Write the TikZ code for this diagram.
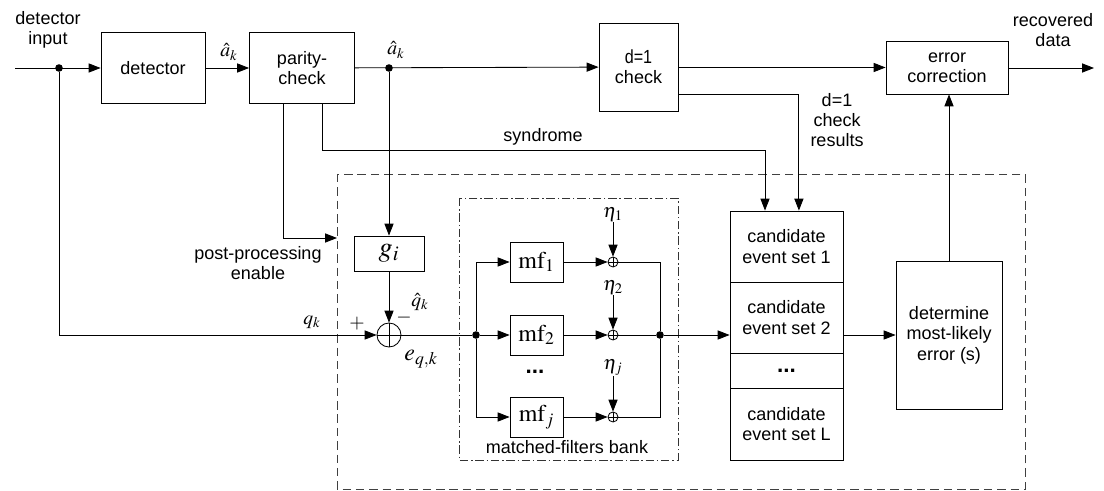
\documentclass[tikz,border=0pt]{standalone}
\usepackage{mathptmx}
\usepackage[no-math]{fontspec}
\setmainfont{Liberation Sans}
\newfontfamily\narrowfont[FakeStretch=0.85]{Liberation Sans}
\usetikzlibrary{arrows.meta}

\tikzset{
	blk/.style = {draw, align=center, inner sep=0pt},
	arr/.style = {-{Triangle[length=8.5pt,width=6.5pt]}},
	junc/.style = {circle, fill, inner sep=0pt, minimum size=0.19cm},
	sumnode/.style = {circle, draw, inner sep=0pt, minimum size=#1,
		path picture = {\draw (path picture bounding box.north) -- (path picture bounding box.south)
			(path picture bounding box.west) -- (path picture bounding box.east);}},
	lbl/.style = {align=center, inner sep=0pt},
	mlbl/.style = {inner sep=0pt, font=\fontsize{14}{16}\selectfont}
}

\begin{document}
\begin{tikzpicture} [x=0.025cm, y=-0.025cm, line width=0.6pt, font=\fontsize{12.8}{14.5}\selectfont]
	\useasboundingbox (0,0) rectangle (1104,491);

	% frames
	\draw [dash pattern=on 6pt off 3.5pt, black!75] (337,174) rectangle (1025,489);
	\draw [dash pattern=on 6pt off 2pt on 1pt off 2pt, black!80] (459,198) rectangle (678,460);

	% top row
	\coordinate (in) at (15,68);
	\coordinate (out) at (1094,68);
	\node [junc] (sp0) at (59,68) {};
	\node [blk, minimum width=2.6cm, minimum height=1.775cm] (det) at (153,68) {detector};
	\node [blk, minimum width=2.625cm, minimum height=1.775cm] (par) at (302,68) {parity-\\check};
	\node [junc] (sp1) at (389,68) {};
	\node [blk, minimum width=1.975cm, minimum height=2.2cm] (dchk) at (638.5,67) {\narrowfont\fontsize{13.5}{15}\selectfont d=1\\check};
	\node [blk, minimum width=3.05cm, minimum height=1.325cm] (errc) at (947,67.5) {error\\correction};

	\node [lbl] at (48,30) {detector\\input};
	\node [lbl] at (1053,30) {recovered\\data};
	\node [mlbl] at (229,52) {$\hat{a}_k$};
	\node [mlbl] at (396,50) {$\hat{a}_k$};
	\node at (543,137) {syndrome};
	\node [lbl] at (837,120) {d=1\\check\\results};
	\node [lbl] at (258,263) {post-processing\\enable};

	% post-processing blocks
	\node [blk, minimum width=1.75cm, minimum height=0.875cm] (gi) at (389,253.5) {\fontsize{20}{22}\selectfont $g_i$};
	\node [sumnode=0.6cm] (sum) at (389,335) {};
	\node [junc] (sp2) at (476,335) {};
	\node [blk, minimum width=1.325cm, minimum height=1cm] (mf1) at (536.5,262) {\fontsize{17}{19}\selectfont $\mathrm{mf}_1$};
	\node [blk, minimum width=1.325cm, minimum height=1cm] (mf2) at (536.5,335) {\fontsize{17}{19}\selectfont $\mathrm{mf}_2$};
	\node [blk, minimum width=1.325cm, minimum height=1cm] (mfj) at (536.5,417) {\fontsize{17}{19}\selectfont $\mathrm{mf}_j$};
	\node at (535,372) {\fontsize{16}{18}\selectfont\textbf{...}};
	\node [sumnode=0.25cm] (add1) at (613,262) {};
	\node [sumnode=0.25cm] (add2) at (613,335) {};
	\node [sumnode=0.25cm] (addj) at (613,417) {};
	\node [mlbl] (eta1) at (613,215) {$\eta_1$};
	\node [mlbl] (eta2) at (613,288) {$\eta_2$};
	\node [mlbl] (etaj) at (613,368) {$\eta_j$};
	\node [junc] (sp3) at (660,335) {};
	\node at (567,447) {matched-filters bank};

	\node [blk, minimum width=2.825cm, minimum height=1.775cm] (cand1) at (786.5,246.5) {candidate\\event set 1};
	\node [blk, minimum width=2.825cm, minimum height=1.775cm] (cand2) at (786.5,317.5) {candidate\\event set 2};
	\node [blk, minimum width=2.825cm, minimum height=0.875cm] (candd) at (786.5,370.5) {\fontsize{16}{18}\selectfont\textbf{...}};
	\node [blk, minimum width=2.825cm, minimum height=1.8cm] (candL) at (786.5,424) {candidate\\event set L};
	\node [blk, minimum width=2.65cm, minimum height=3.7cm] (detm) at (949,335) {determine\\most-likely\\error (s)};

	\node [mlbl] at (312,322) {$q_k$};
	\node [mlbl] at (357,324) {$+$};
	\node [mlbl] at (404,318) {$-$};
	\node [mlbl] at (420,302) {$\hat{q}_k$};
	\node [mlbl, font=\fontsize{17}{19}\selectfont] at (421,359) {$e_{q,k}$};

	% connectors
	\draw [arr] (in) -- (det.west);
	\draw [arr] (det) -- (par);
	\draw [arr] (par) -- (dchk);
	\draw [arr] (dchk.east |- errc.west) -- (errc.west);
	\draw [arr] (errc.east |- out) -- (out);
	\draw [arr] (sp1) -- (gi.north);
	\coordinate (ppe) at (337,238);
	\draw [arr] ([xshift=-0.475cm]par.south) |- (ppe);
	\coordinate (syn) at (765,150);
	\draw [arr] ([xshift=0.5cm]par.south) |- (syn) -- (syn |- cand1.north);
	\draw [arr] ([yshift=-0.675cm]dchk.east) -| ([xshift=0.31cm]cand1.north);
	\draw [arr] (sp0) |- (sum.west);
	\draw [arr] (gi) -- (sum);
	\draw (sum) -- (sp2);
	\draw [arr] (sp2) |- (mf1.west);
	\draw [arr] (sp2) -- (mf2.west);
	\draw [arr] (sp2) |- (mfj.west);
	\draw [arr] (mf1) -- (add1);
	\draw [arr] (mf2) -- (add2);
	\draw [arr] (mfj) -- (addj);
	\draw [arr] (eta1) -- (add1);
	\draw [arr] (eta2) -- (add2);
	\draw [arr] (etaj) -- (addj);
	\draw (add1) -| (sp3);
	\draw (add2) -- (sp3);
	\draw (addj) -| (sp3);
	\draw [arr] (sp3) -- (sp3 -| cand2.west);
	\draw [arr] (cand2.east |- detm.west) -- (detm.west);
	\draw [arr] (detm.north) -- (detm.north |- errc.south);
\end{tikzpicture}
\end{document}
